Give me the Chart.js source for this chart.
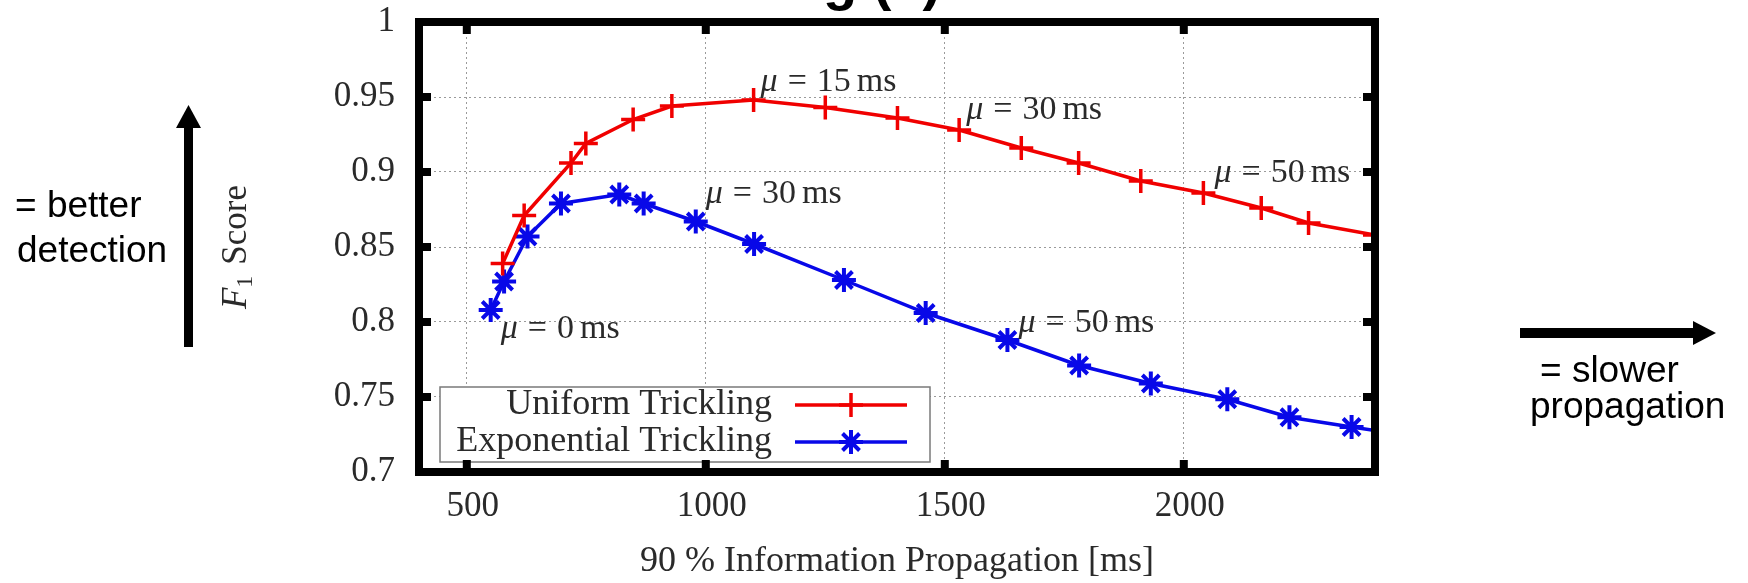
<!DOCTYPE html>
<html lang="en">
<head>
    <meta charset="UTF-8">
    <title>F1 Score vs. Information Propagation</title>
    <script src="https://cdn.jsdelivr.net/npm/chart.js"></script>
    <style>
        html, body { margin: 0; padding: 0; background: #fff; }
        .wrap { position: relative; width: 1748px; height: 583px; overflow: hidden; }
        .wrap canvas { position: absolute; left: 0; top: 0; }
        .overlay { position: absolute; left: 0; top: 0; pointer-events: none; }
        .note { font-family: Arial, "Liberation Sans", sans-serif; font-size: 37px; fill: #000; }
    </style>
</head>
<body>
    <div class="wrap">
        <canvas id="f1Chart" width="1748" height="583"></canvas>
        <svg class="overlay" width="1748" height="583">
            <!-- cut-off slide title -->
            <text x="823" y="-1" font-family="Arial, 'Liberation Sans', sans-serif" font-weight="bold" font-size="56">g (a)</text>
            <!-- up arrow -->
            <rect x="184" y="126" width="9" height="221" fill="#000"/>
            <polygon points="176,128 201,128 188.5,105" fill="#000"/>
            <text class="note" x="15" y="217">= better</text>
            <text class="note" x="17" y="262">detection</text>
            <!-- right arrow -->
            <rect x="1520" y="328" width="175" height="10" fill="#000"/>
            <polygon points="1693,321 1693,345 1716,333" fill="#000"/>
            <text class="note" x="1540" y="382">= slower</text>
            <text class="note" x="1530" y="418">propagation</text>
        </svg>
    </div>
    <script>
        // values
        const uniformX  = [575, 620, 718, 749, 848, 929, 1100, 1250, 1401, 1530, 1660, 1780, 1910, 2041, 2162, 2261, 2400];
        const uniformF1 = [0.839, 0.871, 0.906, 0.919, 0.935, 0.944, 0.948, 0.943, 0.936, 0.928, 0.916, 0.906, 0.894, 0.886, 0.876, 0.866, 0.858];
        const expX  = [550, 578, 627, 697, 819, 870, 979, 1101, 1289, 1460, 1631, 1781, 1931, 2091, 2221, 2351, 2470];
        const expF1 = [0.808, 0.827, 0.857, 0.879, 0.885, 0.879, 0.867, 0.852, 0.828, 0.806, 0.788, 0.771, 0.759, 0.7485, 0.7365, 0.730, 0.7245];

        const xTicks = [500, 1000, 1500, 2000];
        const xTickLabels = ['500', '1000', '1500', '2000'];
        const yTicks = [0.7, 0.75, 0.8, 0.85, 0.9, 0.95, 1];
        const yTickLabels = ['0.7', '0.75', '0.8', '0.85', '0.9', '0.95', '1'];

        // mu annotations: which series / point they sit next to
        const noteSeries = [0, 0, 0, 1, 1, 1];
        const noteIndex  = [6, 9, 13, 0, 6, 10];
        const noteMu     = ['15', '30', '50', '0', '30', '50'];

        const serif = '"Liberation Serif", "Times New Roman", serif';
        const textColor = '#2a2a2a';

        // frame, inner ticks, legend, mu labels, y title (gnuplot look)
        const texPlot = {
            id: 'texPlot',
            afterDatasetsDraw(chart) {
                const { ctx, chartArea: ca, scales: { x, y } } = chart;
                ctx.save();

                // legend box
                const lx = ca.left + 21, ly = ca.bottom - 85;
                ctx.fillStyle = '#fff';
                ctx.fillRect(lx, ly, 490, 75);
                ctx.strokeStyle = '#7a7a7a';
                ctx.lineWidth = 1.5;
                ctx.strokeRect(lx, ly, 490, 75);
                chart.data.datasets.forEach((ds, i) => {
                    const rowY = ly + 18 + i * 37;
                    ctx.font = '36px ' + serif;
                    ctx.fillStyle = textColor;
                    ctx.textAlign = 'right';
                    ctx.textBaseline = 'alphabetic';
                    ctx.fillText(ds.label, lx + 332, rowY + 9);
                    ctx.strokeStyle = ds.borderColor;
                    ctx.lineWidth = ds.borderWidth;
                    ctx.beginPath();
                    ctx.moveTo(lx + 355, rowY);
                    ctx.lineTo(lx + 467, rowY);
                    ctx.stroke();
                    ctx.lineWidth = ds.pointBorderWidth;
                    ctx.fillStyle = ds.borderColor;
                    Chart.helpers.drawPoint(ctx, {
                        pointStyle: ds.pointStyle, radius: ds.pointRadius,
                        rotation: 0, borderWidth: ds.pointBorderWidth
                    }, lx + 411, rowY);
                });

                // mu = .. ms labels
                const offsets = [[7, -9], [7, -11], [11, -11], [10, 28], [10, -19], [11, -8]];
                ctx.fillStyle = textColor;
                ctx.textAlign = 'left';
                ctx.textBaseline = 'alphabetic';
                noteMu.forEach((mu, i) => {
                    const pt = chart.getDatasetMeta(noteSeries[i]).data[noteIndex[i]];
                    let px = pt.x + offsets[i][0];
                    const py = pt.y + offsets[i][1];
                    ctx.font = 'italic 34px ' + serif;
                    ctx.fillText('μ', px, py);
                    px += ctx.measureText('μ').width + 10;
                    ctx.font = '34px ' + serif;
                    ctx.fillText('=', px, py);
                    px += ctx.measureText('=').width + 10;
                    ctx.fillText(mu, px, py);
                    px += ctx.measureText(mu).width + 6;
                    ctx.fillText('ms', px, py);
                });

                // thick frame
                ctx.strokeStyle = '#000';
                ctx.lineWidth = 8;
                ctx.strokeRect(ca.left, ca.top, ca.right - ca.left, ca.bottom - ca.top);

                // inward tick marks on all sides
                ctx.beginPath();
                xTicks.forEach(v => {
                    const px = x.getPixelForValue(v);
                    ctx.moveTo(px, ca.bottom); ctx.lineTo(px, ca.bottom - 12);
                    ctx.moveTo(px, ca.top); ctx.lineTo(px, ca.top + 12);
                });
                yTicks.slice(1, -1).forEach(v => {
                    const py = y.getPixelForValue(v);
                    ctx.moveTo(ca.left, py); ctx.lineTo(ca.left + 12, py);
                    ctx.moveTo(ca.right, py); ctx.lineTo(ca.right - 12, py);
                });
                ctx.stroke();

                // y axis title: F_1 Score
                ctx.translate(ca.left - 173, (ca.top + ca.bottom) / 2);
                ctx.rotate(-Math.PI / 2);
                ctx.fillStyle = textColor;
                ctx.font = 'italic 35px ' + serif;
                const wF = ctx.measureText('F').width;
                ctx.font = '24px ' + serif;
                const w1 = ctx.measureText('1').width;
                ctx.font = '35px ' + serif;
                const wS = ctx.measureText('Score').width;
                let tx = -(wF + w1 + 11 + wS) / 2;
                ctx.font = 'italic 35px ' + serif;
                ctx.fillText('F', tx, 0);
                tx += wF;
                ctx.font = '24px ' + serif;
                ctx.fillText('1', tx, 6);
                tx += w1 + 11;
                ctx.font = '35px ' + serif;
                ctx.fillText('Score', tx, 0);

                ctx.restore();
            }
        };

        new Chart(document.getElementById('f1Chart'), {
            type: 'scatter',
            data: {
                datasets: [{
                    label: 'Uniform Trickling',
                    data: uniformX.map((v, i) => ({ x: v, y: uniformF1[i] })),
                    showLine: true,
                    borderColor: '#f00000',
                    backgroundColor: '#f00000',
                    borderWidth: 3.5,
                    pointStyle: 'cross',
                    pointRadius: 12,
                    pointBorderWidth: 3.5,
                    pointBorderColor: '#f00000'
                }, {
                    label: 'Exponential Trickling',
                    data: expX.map((v, i) => ({ x: v, y: expF1[i] })),
                    showLine: true,
                    borderColor: '#0808e8',
                    backgroundColor: '#0808e8',
                    borderWidth: 3.5,
                    pointStyle: 'star',
                    pointRadius: 12,
                    pointBorderWidth: 4,
                    pointBorderColor: '#0808e8',
                    clip: 0
                }]
            },
            options: {
                responsive: false,
                animation: false,
                layout: { padding: { left: 319, right: 373, top: 22, bottom: 0 } },
                plugins: {
                    legend: { display: false },
                    tooltip: { enabled: false }
                },
                scales: {
                    x: {
                        type: 'linear',
                        min: 400,
                        max: 2400,
                        afterBuildTicks: s => { s.ticks = xTicks.map(v => ({ value: v })); },
                        afterFit: s => { s.height = 111; s.paddingLeft = 0; s.paddingRight = 0; },
                        grid: { color: '#9a9a9a', lineWidth: 1, drawTicks: false },
                        border: { display: false, dash: [2, 3] },
                        ticks: {
                            font: { family: serif, size: 35 },
                            color: textColor,
                            padding: 14,
                            labelOffset: 6,
                            maxRotation: 0,
                            autoSkip: false,
                            callback: v => xTickLabels[xTicks.indexOf(v)]
                        },
                        title: {
                            display: true,
                            text: '90 % Information Propagation [ms]',
                            font: { family: serif, size: 36 },
                            color: textColor,
                            padding: 0
                        }
                    },
                    y: {
                        min: 0.7,
                        max: 1,
                        afterBuildTicks: s => { s.ticks = yTicks.map(v => ({ value: v })); },
                        afterFit: s => { s.width = 100; s.paddingTop = 0; s.paddingBottom = 0; },
                        grid: { color: '#9a9a9a', lineWidth: 1, drawTicks: false },
                        border: { display: false, dash: [2, 3] },
                        ticks: {
                            font: { family: serif, size: 35 },
                            color: textColor,
                            padding: 24,
                            autoSkip: false,
                            callback: v => yTickLabels[yTicks.indexOf(v)]
                        }
                    }
                }
            },
            plugins: [texPlot]
        });
    </script>
</body>
</html>
